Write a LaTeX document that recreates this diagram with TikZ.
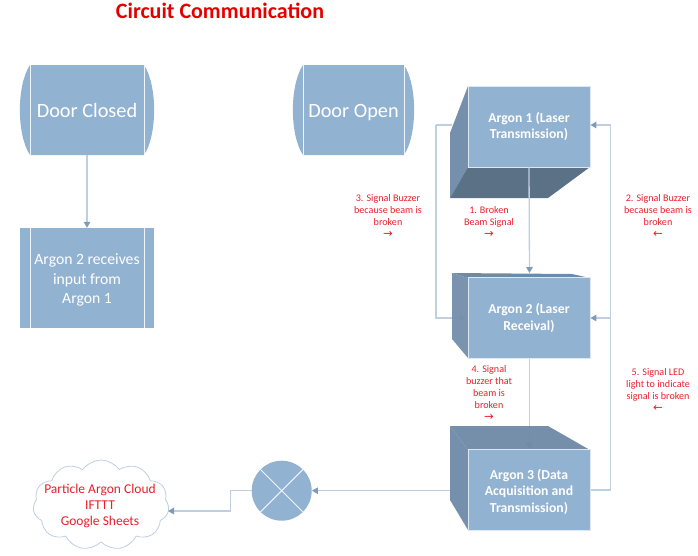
\documentclass[tikz,border=0pt]{standalone}
\usepackage{fontspec}
\setmainfont{Carlito}
\newfontfamily\symfont{DejaVu Sans}
\usetikzlibrary{arrows.meta}
\usetikzlibrary{shapes.symbols}
\definecolor{boxblue}{HTML}{92B2D1}
\definecolor{sideblue}{HTML}{7590AD}
\definecolor{topblue}{HTML}{6F8AA7}
\definecolor{darkblue}{HTML}{5B7186}
\definecolor{lineblue}{HTML}{BFCFE0}
\definecolor{tipblue}{HTML}{7F9BB8}
\definecolor{notered}{HTML}{E8202A}
\tikzstyle{link}=[draw=lineblue,line width=1.3pt]
\tikzstyle{linkto}=[link,-{Triangle[length=6pt,width=6.5pt,color=tipblue]}]
\tikzstyle{front}=[fill=boxblue,draw=white!70!boxblue,line width=.8pt,text=white,align=center,font=\fontsize{13.7}{16.3}\selectfont\bfseries,minimum width=122pt,minimum height=81pt,inner sep=0pt]
\tikzstyle{note}=[text=notered,align=center,font=\fontsize{10.1}{12.2}\selectfont,inner sep=0pt]
\tikzstyle{rim}=[white!85!boxblue,line width=1pt]
\newcommand{\rarr}{{\symfont\fontsize{11.5}{12.2}\selectfont →}}
\newcommand{\larr}{{\symfont\fontsize{11.5}{12.2}\selectfont ←}}

\begin{document}
\begin{tikzpicture}[x=1pt,y=-1pt]
	\useasboundingbox (0,0) rectangle (698,555);

	\node[text=red!90!black,font=\fontsize{22}{26}\selectfont\bfseries] (title) at (220,11) {Circuit Communication};

	% the two drums
	\foreach \nm/\cx/\hw/\txt in {doorclosed/87/57/Door Closed,dooropen/353.5/50.5/Door Open}{
		\fill[boxblue] ({\cx-\hw},65) -- ({\cx+\hw},65) .. controls ({\cx+\hw+13.5},85) and ({\cx+\hw+13.5},135) .. ({\cx+\hw},155) -- ({\cx-\hw},155) .. controls ({\cx-\hw-13.5},135) and ({\cx-\hw-13.5},85) .. cycle;
		\draw[rim] ({\cx-\hw},65) -- ({\cx-\hw},155);
		\draw[rim] ({\cx+\hw},65) -- ({\cx+\hw},155);
		\node[text=white,font=\fontsize{20.3}{24}\selectfont,text height=19pt,text depth=4pt,minimum width=2*\hw pt,minimum height=90pt,inner sep=0pt] (\nm) at (\cx,110) {\txt};
	}

	\fill[boxblue] (20,228) rectangle +(134,100);
	\draw[rim] (30,228) -- (30,328);
	\draw[rim] (144,228) -- (144,328);
	\node[text=white,align=center,font=\fontsize{15.7}{19.3}\selectfont,minimum width=134pt,minimum height=104pt,inner sep=0pt] (receives) at (87,280) {Argon 2 receives\\input from\\Argon 1};
	\draw[linkto] (doorclosed.south) -- (receives.north);

	% behind the boxes
	\coordinate (lefttop) at (436,125);
	\coordinate (bus) at (610.5,490);
	\coordinate (a2left) at (466,318);
	\coordinate (a3top) at (529.5,449);
	\draw[link] (lefttop) -- (452,125);
	\draw[linkto] (lefttop) -- (436,318) -- (a2left);
	\draw[linkto] (529.5,358) -- (a3top);
	\draw[link] (468,490) -- (bus);

	% Argon 1
	\fill[sideblue] (468,86) -- (468,167) -- (450,198) -- (450,133) -- cycle;
	\fill[darkblue] (468,167) -- (590,167) -- (548,198) -- (450,198) -- cycle;
	\node[front] (argon1) at (529,126.5) {Argon 1 (Laser\\Transmission)};
	% Argon 2
	\fill[sideblue,opacity=.96] (452,273) -- (468,278) -- (468,358) -- (452,339) -- cycle;
	\fill[topblue] (452,273) -- (572,274) -- (590,278) -- (468,278) -- cycle;
	\node[front] (argon2) at (529,318) {Argon 2 (Laser\\Receival)};
	% Argon 3
	\fill[sideblue] (450,426) -- (468,450) -- (468,530) -- (450,500) -- cycle;
	\fill[topblue,opacity=.96] (450,426) -- (548,426) -- (590,450) -- (468,450) -- cycle;
	\node[front] (argon3) at (529,490) {\rule{0pt}{14pt}Argon 3 (Data\\Acquisition and\\Transmission)};

	\draw[linkto] (argon1.south) -- (529.5,273);
	\draw[linkto] (bus) -- (610.5,125) -- (argon1.east |- 0,125);
	\draw[linkto] (610.5,318) -- (argon2.east);

	\foreach \nm/\nx/\ny/\txt in {note1/489/222/{1. Broken\\Beam Signal\\\rarr},note2/658/216/{2. Signal Buzzer\\because beam is\\broken\\\larr},note3/388/216/{3. Signal Buzzer\\because beam is\\broken\\\rarr},note4/489/393/{4. Signal\\buzzer that\\beam is\\broken\\\rarr},note5/658/390/{5. Signal LED\\light to indicate\\signal is broken\\\larr}}{
		\node[note] (\nm) at (\nx,\ny) {\txt};
	}

	% summing junction and cloud
	\node[circle,fill=boxblue,minimum size=60pt,inner sep=0pt] (junction) at (281.7,490.7) {};
	\draw[rim] (junction.north west) -- (junction.south east);
	\draw[rim] (junction.north east) -- (junction.south west);
	\draw[linkto] (450,490.7) -- (junction.east);

	\node[cloud,cloud puffs=11,cloud puff arc=110,aspect=1.3,draw=lineblue,line width=.8pt,fill=white,minimum width=136pt,minimum height=90pt,inner sep=0pt] (cloud) at (101,505) {};
	\node[text=notered,align=center,font=\fontsize{13.5}{16}\selectfont,inner sep=0pt] (cloudtext) at (100,506) {Particle Argon Cloud\\IFTTT\\Google Sheets};
	\coordinate (cloudin) at (168,511);
	\draw[linkto] (junction.west) -- (230.5,490.7) -- (230.5,511) -- (cloudin);
\end{tikzpicture}
\end{document}
